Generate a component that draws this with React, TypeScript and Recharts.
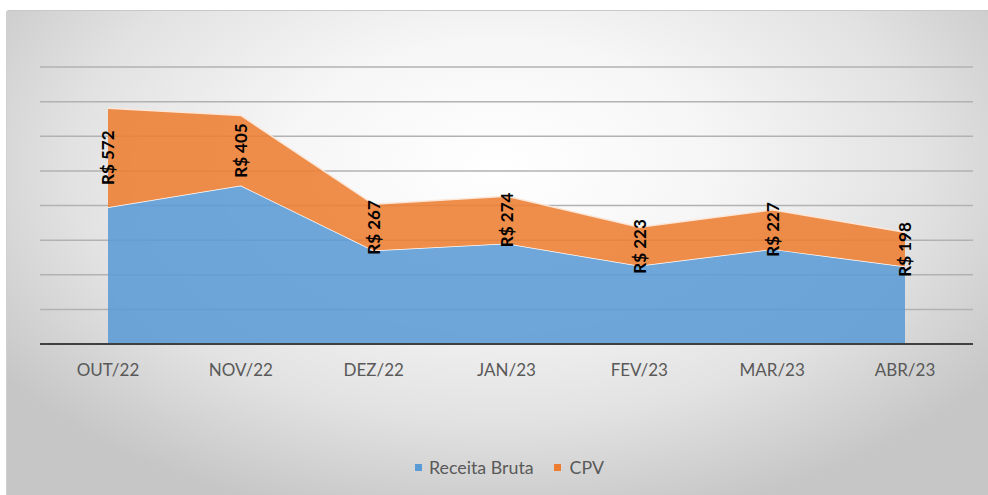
import React from 'react';
import { ComposedChart, Area, Line, XAxis, YAxis, CartesianGrid, LabelList } from 'recharts';

const categories = ['OUT/22', 'NOV/22', 'DEZ/22', 'JAN/23', 'FEV/23', 'MAR/23', 'ABR/23'];
const receitaBruta = [790, 915, 540, 580, 452, 548, 447];
const cpv = [572, 405, 267, 274, 223, 227, 198];
const yTicks = [0, 200, 400, 600, 800, 1000, 1200, 1400, 1600];
const seriesNames = ['Receita Bruta', 'CPV'];

const BLUE = '#5B9BD5';
const ORANGE = '#ED7D31';
const FONT = 'Lato, Carlito, Calibri, "Open Sans", sans-serif';

const data = categories.map((c, i) => ({
  name: c,
  receita: receitaBruta[i],
  cpv: cpv[i],
  mid: receitaBruta[i] + cpv[i] / 2,
}));

const renderLabel = (props: any) => {
  const { x, y, value } = props;
  return (
    <text
      x={x}
      y={y}
      transform={`rotate(-90, ${x}, ${y})`}
      textAnchor="middle"
      dominantBaseline="central"
      fontFamily={FONT}
      fontWeight={700}
      fontSize={17}
      fill="#000"
    >
      {`R$ ${value}`}
    </text>
  );
};

const renderTick = (props: any) => {
  const { x, y, payload } = props;
  return (
    <text x={x} y={y + 17} textAnchor="middle" dominantBaseline="central" fontFamily={FONT} fontSize={17} fill="#595959">
      {payload.value}
    </text>
  );
};

export default function App() {
  return (
    <div style={{ position: 'absolute', left: 0, top: 0, width: 988, height: 495, background: '#fff', overflow: 'hidden' }}>
      <div
        style={{
          position: 'absolute',
          left: 6,
          top: 10,
          width: 982,
          height: 485,
          borderTop: '1px solid #c8c8c8',
          borderLeft: '1px solid #d0d0d0',
          borderTopLeftRadius: 3,
          background: 'radial-gradient(ellipse 62% 75% at 50% 32%, #ffffff 0%, #f6f6f6 35%, #e2e2e2 70%, #c6c6c6 100%)',
        }}
      />
      <div style={{ position: 'absolute', left: 0, top: 0 }}>
        <ComposedChart width={988} height={495} data={data} margin={{ top: 67, right: 15, left: 40, bottom: 111 }}>
          <CartesianGrid vertical={false} stroke="#b2b2b2" strokeWidth={1.5} />
          <YAxis hide domain={[0, 1600]} ticks={yTicks} />
          <XAxis
            dataKey="name"
            height={40}
            padding={{ left: 68, right: 68 }}
            axisLine={{ stroke: '#404040', strokeWidth: 2 }}
            tickLine={false}
            tick={renderTick}
            interval={0}
          />
          <Area
            type="linear"
            dataKey="receita"
            stackId="a"
            fill={BLUE}
            fillOpacity={0.88}
            stroke="#ffffff"
            strokeWidth={1.5}
            isAnimationActive={false}
          />
          <Area
            type="linear"
            dataKey="cpv"
            stackId="a"
            fill={ORANGE}
            fillOpacity={0.88}
            stroke="#fbe6d8"
            strokeWidth={1.5}
            isAnimationActive={false}
          />
          <Line dataKey="mid" stroke="none" dot={false} activeDot={false} isAnimationActive={false}>
            <LabelList dataKey="cpv" content={renderLabel} />
          </Line>
        </ComposedChart>
      </div>
      <div
        style={{
          position: 'absolute',
          left: 415,
          top: 456,
          height: 22,
          display: 'flex',
          alignItems: 'center',
          fontFamily: FONT,
          fontSize: 17.8,
          color: '#595959',
          whiteSpace: 'nowrap',
        }}
      >
        <span style={{ width: 7, height: 7, background: BLUE, display: 'inline-block', marginRight: 7 }} />
        <span style={{ marginRight: 20 }}>{seriesNames[0]}</span>
        <span style={{ width: 7, height: 7, background: ORANGE, display: 'inline-block', marginRight: 9 }} />
        <span>{seriesNames[1]}</span>
      </div>
    </div>
  );
}
